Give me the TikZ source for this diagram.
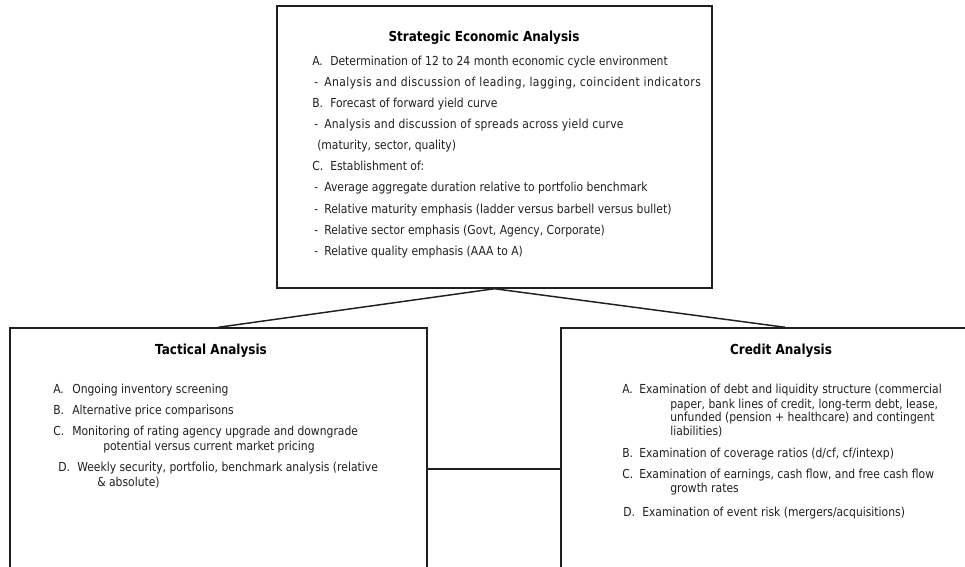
\documentclass[tikz,border=0pt]{standalone}
\usepackage{fontspec}
\setmainfont[FakeStretch=0.87]{DejaVu Sans}
\newcommand{\lab}[2]{\makebox[#1][l]{#2}}
\begin{document}
\begin{tikzpicture}[x=0.75pt,y=-0.75pt,
  box/.style={draw=black!88, line width=1.1pt, inner sep=0pt},
  conn/.style={draw=black!88, line width=1.1pt},
  txt/.style={anchor=base west, inner sep=0pt, font=\fontsize{9.3}{11}\selectfont, text=black!88},
  ttl/.style={anchor=base, inner sep=0pt, font=\fontsize{10.35}{12}\selectfont\bfseries}]
\useasboundingbox (0,0) rectangle (965,567);
\clip (0,0) rectangle (965,567);
% boxes
\node[box, minimum width=326.25pt, minimum height=211.5pt] (sea) at (494.5,147) {};
\node[box, minimum width=312.75pt, minimum height=204pt] (tac) at (218.5,464) {};
\node[box, minimum width=336pt, minimum height=204pt] (cre) at (785,464) {};
% connectors
\draw[conn] (sea.south) -- (tac.north);
\draw[conn] (sea.south) -- (cre.north);
\coordinate (hy) at (0,469);
\draw[conn] (tac.east |- hy) -- (cre.west |- hy);
% strategic
\node[ttl] (st) at (484,41.5) {Strategic Economic Analysis};
\node[txt] (s1) at (312,65.5) {\lab{13.5pt}{A.}Determination of 12 to 24 month economic cycle environment};
\node[txt] (s2) at (314,86.5) {\lab{7.5pt}{-}{\addfontfeature{LetterSpace=3.6}Analysis and discussion of leading, lagging, coincident indicators}};
\node[txt] (s3) at (312,107.5) {\lab{13.5pt}{B.}Forecast of forward yield curve};
\node[txt] (s4) at (314,128.5) {\lab{7.5pt}{-}{\addfontfeature{LetterSpace=2}Analysis and discussion of spreads across yield curve}};
\node[txt] (s5) at (317,149.5) {(maturity, sector, quality)};
\node[txt] (s6) at (312,170.5) {\lab{13.5pt}{C.}Establishment of:};
\node[txt] (s7) at (314,191.5) {\lab{7.5pt}{-}Average aggregate duration relative to portfolio benchmark};
\node[txt] (s8) at (314,213.5) {\lab{7.5pt}{-}Relative maturity emphasis (ladder versus barbell versus bullet)};
\node[txt] (s9) at (314,234.5) {\lab{7.5pt}{-}Relative sector emphasis (Govt, Agency, Corporate)};
\node[txt] (s10) at (314,255.5) {\lab{7.5pt}{-}Relative quality emphasis (AAA to A)};
% tactical
\node[ttl] (tt) at (211,354.5) {Tactical Analysis};
\node[txt] (t1) at (53,393.5) {\lab{14.25pt}{A.}Ongoing inventory screening};
\node[txt] (t2) at (53,414.5) {\lab{14.25pt}{B.}Alternative price comparisons};
\node[txt] (t3) at (53,435.5) {\lab{14.25pt}{C.}Monitoring of rating agency upgrade and downgrade};
\node[txt] (t3b) at (103,450.5) {potential versus current market pricing};
\node[txt] (t4) at (58,471.5) {\lab{14.25pt}{D.}Weekly security, portfolio, benchmark analysis (relative};
\node[txt] (t4b) at (97,486.5) {\& absolute)};
% credit
\node[ttl] (ct) at (781,354.5) {Credit Analysis};
\node[txt] (c1) at (622,393.5) {\lab{12.75pt}{A.}Examination of debt and liquidity structure (commercial};
\node[txt] (c1b) at (670,408.5) {paper, bank lines of credit, long-term debt, lease,};
\node[txt] (c1c) at (670,421.5) {unfunded (pension + healthcare) and contingent};
\node[txt] (c1d) at (670,435.5) {liabilities)};
\node[txt] (c2) at (622,457.5) {\lab{12.75pt}{B.}Examination of coverage ratios (d/cf, cf/intexp)};
\node[txt] (c3) at (622,478.5) {\lab{12.75pt}{C.}Examination of earnings, cash flow, and free cash flow};
\node[txt] (c3b) at (670,492.5) {growth rates};
\node[txt] (c4) at (623,516.5) {\lab{14.25pt}{D.}Examination of event risk (mergers/acquisitions)};
\end{tikzpicture}
\end{document}
